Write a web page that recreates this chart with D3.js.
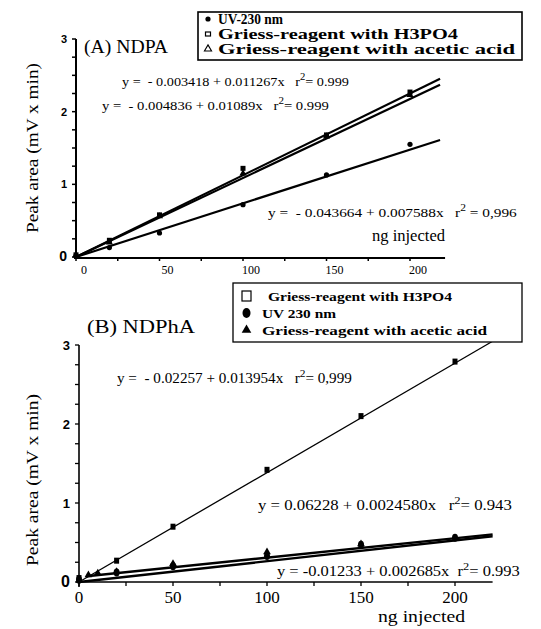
<!DOCTYPE html>
<html><head><meta charset="utf-8">
<script src="https://cdn.jsdelivr.net/npm/d3@7"></script>
<style>
body{margin:0;background:#fff;}
svg{display:block;}
</style></head>
<body>
<svg id="c" width="541" height="629"></svg>
<script>
// ---------- DATA ----------
const xTicks = [0, 50, 100, 150, 200];
const yTicks = [0, 1, 2, 3];

// Panel A (NDPA)
const aX = [0, 20, 50, 100, 150, 200];
const aUV = [0.02, 0.13, 0.33, 0.72, 1.13, 1.55];
const aH3PO4 = [0.03, 0.23, 0.58, 1.22, 1.68, 2.27];
const aAcetic = [0.02, 0.20, 0.56, 1.15, 1.66, 2.23];
const aFits = [
  {b: -0.003418, m: 0.011267, label: "y =  - 0.003418 + 0.011267x   r", r2: "= 0.999"},
  {b: -0.004836, m: 0.01089,  label: "y =  - 0.004836 + 0.01089x   r", r2: "= 0.999"},
  {b: -0.043664, m: 0.007588, label: "y =  - 0.043664 + 0.007588x   r", r2: " = 0,996"}
];
const aLegend = ["UV-230 nm", "Griess-reagent with H3PO4", "Griess-reagent with acetic acid"];

// Panel B (NDPhA)
const bXH = [0, 20, 50, 100, 150, 200];
const bH3PO4 = [0.05, 0.27, 0.70, 1.42, 2.10, 2.79];
const bXU = [0, 20, 50, 100, 150, 200];
const bUV = [0.03, 0.12, 0.20, 0.33, 0.47, 0.56];
const bXA = [5, 10, 20, 50, 100, 150];
const bAcetic = [0.09, 0.11, 0.13, 0.23, 0.38, 0.48];
const bFits = [
  {b: -0.02257, m: 0.013954, label: "y =  - 0.02257 + 0.013954x   r", r2: "= 0,999"},
  {b: 0.06228,  m: 0.0024580, label: "y = 0.06228 + 0.0024580x   r", r2: "= 0.943"},
  {b: -0.01233, m: 0.002685, label: "y = -0.01233 + 0.002685x  r", r2: "= 0.993"}
];
const bLegend = ["Griess-reagent with H3PO4", "UV 230 nm", "Griess-reagent with acetic acid"];

const SERIF = "'Liberation Serif','DejaVu Serif','Times New Roman',serif";
const SANS = "'Liberation Sans','DejaVu Sans',Arial,sans-serif";
const svg = d3.select("#c");

function txt(g, s, x, y, size, opts) {
  opts = opts || {};
  const t = g.append("text").attr("x", x).attr("y", y)
    .attr("font-family", opts.sans ? SANS : SERIF)
    .attr("font-size", size).attr("fill", "#000")
    .attr("font-weight", opts.bold ? "bold" : "normal")
    .attr("text-anchor", opts.anchor || "start").text(s);
  if (opts.len) t.attr("textLength", opts.len).attr("lengthAdjust", "spacingAndGlyphs");
  if (opts.transform) t.attr("transform", opts.transform);
  return t;
}
function eq(g, f, x, y, size, len) {
  const t = g.append("text").attr("x", x).attr("y", y).attr("font-family", SERIF)
    .attr("font-size", size).attr("fill", "#000").attr("xml:space", "preserve");
  t.append("tspan").text(f.label);
  t.append("tspan").attr("dy", -size*0.45).attr("font-size", size*0.75).text("2");
  t.append("tspan").attr("dy", size*0.45).text(f.r2);
  if (len) {
    const w = t.node().getComputedTextLength();
    const k = len / w;
    t.attr("transform", `translate(${x},${y}) scale(${k},1) translate(${-x},${-y})`);
  }
  return t;
}

// ---------- PANEL A ----------
(function(){
  const x = d3.scaleLinear().domain([0, 200]).range([76, 410]);
  const y = d3.scaleLinear().domain([0, 3]).range([257, 39]);
  const g = svg.append("g");
  g.append("line").attr("x1", x(0)).attr("x2", x(0)).attr("y1", y(3)).attr("y2", y(0)+2).attr("stroke","#000").attr("stroke-width",2);
  d3.range(0, 3.01, 0.25).forEach(v=>{
    g.append("line").attr("x1", x(0)-4).attr("x2", x(0)).attr("y1", y(v)).attr("y2", y(v)).attr("stroke","#000").attr("stroke-width",1.5);
  });
  yTicks.forEach(v=>{
    txt(g, v, 67, y(v)+4, v===0?14:11, {sans:true, bold:true, anchor:"end"});
  });
  g.append("line").attr("x1", x(0)-2).attr("x2", x(221)).attr("y1", y(0)+1).attr("y2", y(0)+1).attr("stroke","#000").attr("stroke-width",2);
  d3.range(0, 220, 25).forEach(v=>{
    g.append("line").attr("x1", x(v)).attr("x2", x(v)).attr("y1", y(0)+1).attr("y2", y(0)+4).attr("stroke","#000").attr("stroke-width",1.5);
  });
  xTicks.forEach(v=>{
    txt(g, v, x(v)+8, 274, 12, {anchor:"middle"});
  });
  txt(g, "ng injected", 372, 241, 16, {len: 73});
  txt(g, "Peak area (mV x min)", 0, 0, 16, {anchor:"middle", len:170, transform:"translate(38,148) rotate(-90)"});
  txt(g, "(A) NDPA", 84, 53, 18, {len: 84});
  aFits.forEach(f=>{
    g.append("line").attr("x1", x(0)).attr("y1", y(Math.max(0,f.b))).attr("x2", x(218)).attr("y2", y(f.b + f.m*218))
      .attr("stroke","#000").attr("stroke-width",2.2);
  });
  aX.forEach((v,i)=>{
    g.append("circle").attr("cx", x(v)).attr("cy", y(aUV[i])).attr("r", 2.6).attr("fill","#000");
    g.append("rect").attr("x", x(v)-2.5).attr("y", y(aH3PO4[i])-2.5).attr("width",5).attr("height",5).attr("fill","#000");
    g.append("path").attr("d", d3.symbol(d3.symbolTriangle, 22)()).attr("transform",`translate(${x(v)},${y(aAcetic[i])})`).attr("fill","#000");
  });
  const eqPos = [[122, 86, 227], [102, 110, 227], [268, 217, 249]];
  aFits.forEach((f,i)=> eq(g, f, eqPos[i][0], eqPos[i][1], 13, eqPos[i][2]));
  g.append("rect").attr("x",198).attr("y",12).attr("width",324).attr("height",48).attr("fill","#fff").attr("stroke","#000").attr("stroke-width",1.6);
  const ly = [24, 39, 54];
  const lens = [65, 240, 297];
  aLegend.forEach((s,i)=> txt(g, s, 218, ly[i], 14, {bold:true, len: lens[i]}));
  g.append("circle").attr("cx",208).attr("cy",ly[0]-5).attr("r",2.6).attr("fill","#000");
  g.append("rect").attr("x",205.5).attr("y",ly[1]-7).attr("width",5).attr("height",4).attr("fill","none").attr("stroke","#000").attr("stroke-width",1.2);
  g.append("path").attr("d", d3.symbol(d3.symbolTriangle, 22)()).attr("transform",`translate(208,${ly[2]-5})`).attr("fill","none").attr("stroke","#000").attr("stroke-width",1.1);
})();

// ---------- PANEL B ----------
(function(){
  const x = d3.scaleLinear().domain([0, 200]).range([79, 455]);
  const y = d3.scaleLinear().domain([0, 3]).range([582, 345]);
  const g = svg.append("g");
  g.append("line").attr("x1", x(0)).attr("x2", x(0)).attr("y1", y(3)).attr("y2", y(0)+5).attr("stroke","#000").attr("stroke-width",1.6);
  d3.range(0, 3.01, 0.25).forEach(v=>{
    g.append("line").attr("x1", x(0)-4).attr("x2", x(0)).attr("y1", y(v)).attr("y2", y(v)).attr("stroke","#000").attr("stroke-width",1.3);
  });
  yTicks.forEach(v=>{
    txt(g, v, 70, y(v)+5, v===0?16:13, {sans:true, bold:true, anchor:"end"});
  });
  g.append("line").attr("x1", x(0)-3).attr("x2", x(220)).attr("y1", y(0)).attr("y2", y(0)).attr("stroke","#000").attr("stroke-width",1.6);
  d3.range(0, 220, 25).forEach(v=>{
    g.append("line").attr("x1", x(v)).attr("x2", x(v)).attr("y1", y(0)).attr("y2", y(0)+4).attr("stroke","#000").attr("stroke-width",1.3);
  });
  xTicks.forEach(v=> txt(g, v, x(v), 603, 17, {anchor:"middle"}));
  txt(g, "ng injected", 378, 622, 17, {len: 87});
  txt(g, "Peak area (mV x min)", 0, 0, 17, {anchor:"middle", len:172, transform:"translate(38,480) rotate(-90)"});
  txt(g, "(B) NDPhA", 87, 333, 19, {len: 108});
  const widths = [1.3, 2.4, 2.4];
  bFits.forEach((f,i)=>{
    const x0 = i===1 ? 4 : 0;
    g.append("line").attr("x1", x(x0)).attr("y1", y(Math.max(0,f.b + f.m*x0))).attr("x2", x(220)).attr("y2", y(f.b + f.m*220))
      .attr("stroke","#000").attr("stroke-width",widths[i]);
  });
  bXH.forEach((v,i)=>{
    g.append("rect").attr("x", x(v)-2.5).attr("y", y(bH3PO4[i])-3).attr("width",5).attr("height",6).attr("fill","#000");
  });
  bXU.forEach((v,i)=>{
    g.append("ellipse").attr("cx", x(v)).attr("cy", y(bUV[i])).attr("rx", 3).attr("ry",4).attr("fill","#000");
  });
  bXA.forEach((v,i)=>{
    g.append("path").attr("d", d3.symbol(d3.symbolTriangle, 26)()).attr("transform",`translate(${x(v)},${y(bAcetic[i])})`).attr("fill","#000");
  });
  const eqPos = [[117, 383, 235], [258, 510, 254], [277, 576, 243]];
  bFits.forEach((f,i)=> eq(g, f, eqPos[i][0], eqPos[i][1], 14, eqPos[i][2]));
  g.append("rect").attr("x",233).attr("y",283).attr("width",289).attr("height",59).attr("fill","#fff").attr("stroke","#000").attr("stroke-width",1.3);
  const ly = [301, 318, 335];
  const lx = [268, 262, 262];
  const lens = [184, 74, 225];
  bLegend.forEach((s,i)=> txt(g, s, lx[i], ly[i], 13, {bold:true, len: lens[i]}));
  g.append("rect").attr("x",242).attr("y",ly[0]-10).attr("width",9).attr("height",10).attr("fill","none").attr("stroke","#000").attr("stroke-width",1.2);
  g.append("ellipse").attr("cx",246.5).attr("cy",ly[1]-5).attr("rx",4).attr("ry",5).attr("fill","#000");
  g.append("path").attr("d", d3.symbol(d3.symbolTriangle, 40)()).attr("transform",`translate(246.5,${ly[2]-5})`).attr("fill","#000");
})();
</script>
</body></html>
